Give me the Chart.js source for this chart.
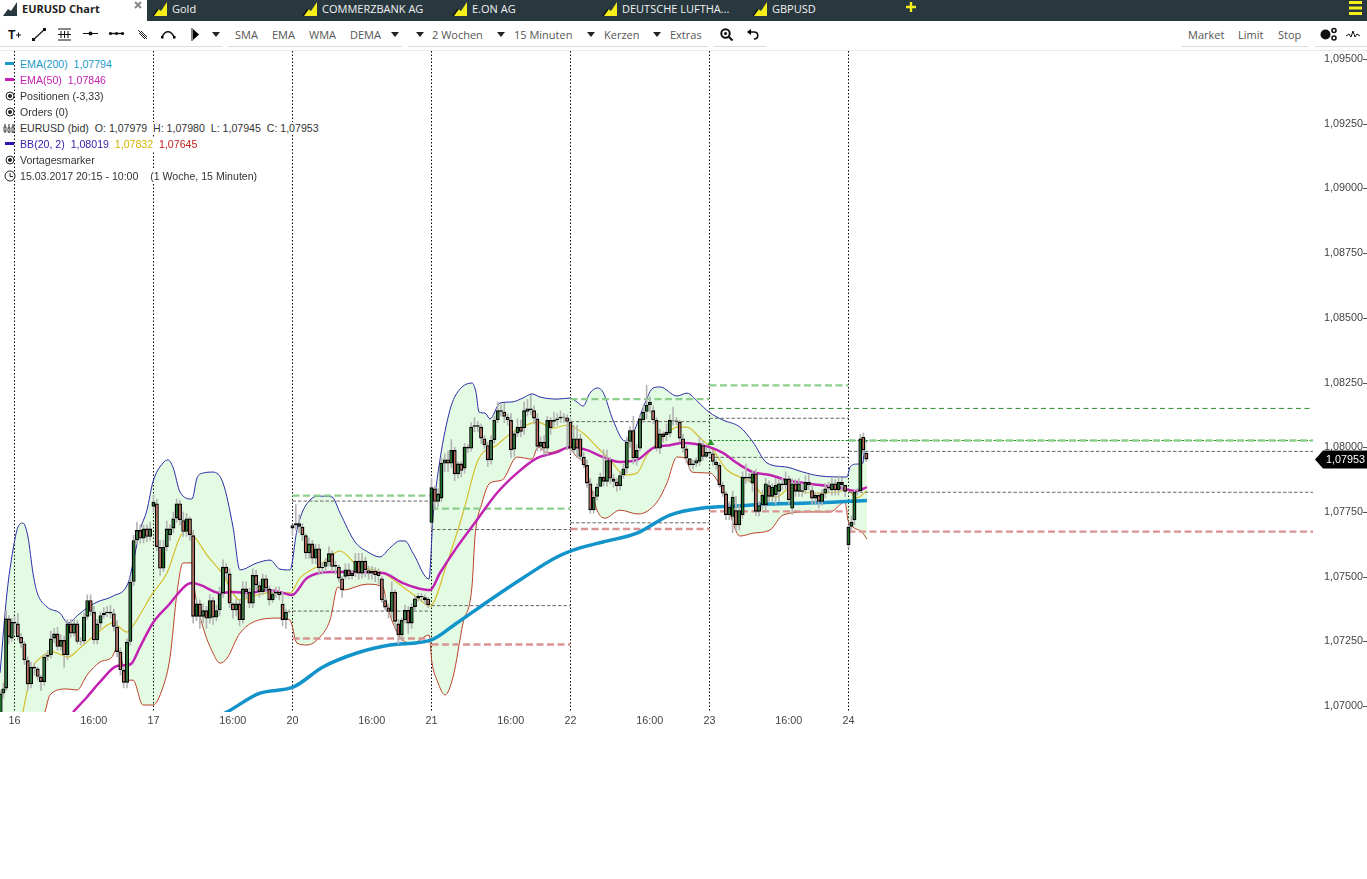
<!DOCTYPE html>
<html>
<head>
<meta charset="utf-8">
<title>EURUSD Chart</title>
<script src="https://cdn.jsdelivr.net/npm/chart.js@4"></script>
<style>
html, body { margin: 0; padding: 0; background: #fff; overflow: hidden; }
#page { position: relative; width: 1367px; height: 879px; overflow: hidden; }
#tabbar { position: absolute; left: 0; top: 0; width: 1367px; height: 21px; background: #29383f; }
#activetab { position: absolute; left: 0; top: 0; width: 147px; height: 21px; background: #fff; }
.tab, .tool, .lg { position: absolute; white-space: nowrap; }
.tab { top: 1px; font: 11px/15px "Open Sans"; color: #f2f2f2; }
.tool { top: 27px; font: 11px/15px "Open Sans"; color: #555; }
.lg { left: 20px; font: 10.6px/13px "Liberation Sans"; color: #333; background: #fff; padding-right: 1px; }
.rule { position: absolute; height: 1px; background: #ddd; top: 46px; }
svg { position: absolute; overflow: visible; }
#chartBox { position: absolute; left: 0; top: 51px; width: 1367px; height: 680px; }
</style>
</head>
<body>
<div id="page">
  <div id="chartBox"><canvas id="eurusdChart"></canvas></div>

  <div id="tabbar"></div>
  <div id="activetab"></div>
  <svg style="left:3px;top:2px" width="15" height="15"><polygon points="0,14 5,7 8,9 14,0 14,14" fill="#29383f"/></svg>
  <div class="tab" style="left:22px;color:#222;font-weight:700">EURUSD Chart</div>
  <svg style="left:134px;top:1px" width="9" height="9"><path d="M1 1L7 7M7 1L1 7" stroke="#888" stroke-width="2"/></svg>
  <svg style="left:153px;top:2px" width="15" height="15"><use href="#tabIcon"/></svg>
  <div class="tab" style="left:172px">Gold</div>
  <svg style="left:303px;top:2px" width="15" height="15"><use href="#tabIcon"/></svg>
  <div class="tab" style="left:322px">COMMERZBANK AG</div>
  <svg style="left:453px;top:2px" width="15" height="15"><use href="#tabIcon"/></svg>
  <div class="tab" style="left:472px">E.ON AG</div>
  <svg style="left:603px;top:2px" width="15" height="15"><use href="#tabIcon"/></svg>
  <div class="tab" style="left:622px">DEUTSCHE LUFTHA...</div>
  <svg style="left:753px;top:2px" width="15" height="15"><use href="#tabIcon"/></svg>
  <div class="tab" style="left:772px">GBPUSD</div>
  <svg style="left:906px;top:2px" width="11" height="11"><path d="M5 0V10M0 5H10" stroke="#f5ee1a" stroke-width="2.4"/></svg>
  <svg style="left:1349px;top:1px" width="13" height="14"><path d="M0 1.5H13M0 7H13M0 12.5H13" stroke="#f5ee1a" stroke-width="3"/></svg>
  <svg width="0" height="0"><defs><g id="tabIcon"><polygon points="0,14 5,7 8,9 14,0 14,14" fill="#f5ee1a"/><path d="M0 14L5 7" stroke="#111" stroke-width="1.5"/></g></defs></svg>

  <!-- toolbar -->
  <svg style="left:8px;top:29px" width="13" height="12"><text x="0" y="10" font-family="Liberation Sans" font-weight="700" font-size="12" fill="#111">T</text><path d="M8 6H13M10.5 3.5V8.5" stroke="#111"/></svg>
  <svg style="left:32px;top:28px" width="14" height="13"><path d="M1 12L13 1" stroke="#111" stroke-width="1.2"/><rect x="0" y="10" width="3" height="3" fill="#111"/><rect x="11" y="0" width="3" height="3" fill="#111"/></svg>
  <svg style="left:58px;top:28px" width="14" height="14"><path d="M0 1H13M0 12H13M0 6.5H13M3 3V10M6.5 3V10M10 3V10" stroke="#111"/></svg>
  <svg style="left:83px;top:30px" width="16" height="8"><path d="M0 3.5H15" stroke="#111"/><circle cx="7.5" cy="3.5" r="2" fill="#111"/></svg>
  <svg style="left:109px;top:30px" width="16" height="8"><path d="M0 3.5H15" stroke="#111" stroke-width="1.4"/><circle cx="1.5" cy="3.5" r="1.6" fill="#111"/><circle cx="7.5" cy="3.5" r="1.6" fill="#111"/><circle cx="13.5" cy="3.5" r="1.6" fill="#111"/></svg>
  <svg style="left:137px;top:29px" width="12" height="12"><path d="M1 1L10 10M2 4L8 10M4 2L10 8" stroke="#222"/></svg>
  <svg style="left:161px;top:30px" width="15" height="9"><path d="M1 7C4 0 10 0 13 7" fill="none" stroke="#111" stroke-width="1.5"/><rect x="0" y="6" width="2.5" height="2.5"/><rect x="12" y="6" width="2.5" height="2.5"/></svg>
  <svg style="left:191px;top:28px" width="10" height="13"><path d="M1 0V13" stroke="#111"/><polygon points="2,1 8,6.5 2,12"/></svg>
  <svg style="left:212px;top:32px" width="8" height="5"><polygon points="0,0 8,0 4,5" fill="#222"/></svg>
  <div class="tool" style="left:235px">SMA</div>
  <div class="tool" style="left:272px">EMA</div>
  <div class="tool" style="left:309px">WMA</div>
  <div class="tool" style="left:350px">DEMA</div>
  <svg style="left:391px;top:32px" width="8" height="5"><polygon points="0,0 8,0 4,5" fill="#222"/></svg>
  <svg style="left:416px;top:32px" width="8" height="5"><polygon points="0,0 8,0 4,5" fill="#222"/></svg>
  <div class="tool" style="left:432px">2 Wochen</div>
  <svg style="left:497px;top:32px" width="8" height="5"><polygon points="0,0 8,0 4,5" fill="#222"/></svg>
  <div class="tool" style="left:514px">15 Minuten</div>
  <svg style="left:587px;top:32px" width="8" height="5"><polygon points="0,0 8,0 4,5" fill="#222"/></svg>
  <div class="tool" style="left:604px">Kerzen</div>
  <svg style="left:653px;top:32px" width="8" height="5"><polygon points="0,0 8,0 4,5" fill="#222"/></svg>
  <div class="tool" style="left:670px">Extras</div>
  <svg style="left:720px;top:28px" width="13" height="13"><circle cx="5.5" cy="5.5" r="4.2" fill="none" stroke="#111" stroke-width="2"/><path d="M8.5 8.5L12.5 12.5" stroke="#111" stroke-width="2.2"/><circle cx="5.5" cy="5.5" r="1.5"/></svg>
  <svg style="left:747px;top:29px" width="12" height="11"><path d="M3 3H7C12 3 12 10 7 10" fill="none" stroke="#111" stroke-width="1.6"/><polygon points="4,0 4,6 0,3"/></svg>
  <div class="tool" style="left:1188px">Market</div>
  <div class="tool" style="left:1238px">Limit</div>
  <div class="tool" style="left:1278px">Stop</div>
  <svg style="left:1320px;top:28px" width="17" height="13"><circle cx="5.5" cy="6.5" r="5" fill="#111"/><circle cx="14" cy="2.5" r="2" fill="none" stroke="#111" stroke-width="1.6"/><circle cx="14" cy="10" r="2" fill="none" stroke="#111" stroke-width="1.6"/></svg>
  <svg style="left:1346px;top:30px" width="14" height="9"><path d="M0 6L3 4L5 7L7 1L9 7L11 4L14 6" fill="none" stroke="#111"/></svg>
  <div class="rule" style="left:0;width:222px"></div>
  <div class="rule" style="left:228px;width:174px"></div>
  <div class="rule" style="left:408px;width:300px"></div>
  <div class="rule" style="left:714px;width:52px"></div>
  <div class="rule" style="left:1181px;width:127px"></div>
  <div class="rule" style="left:1315px;width:52px"></div>
  <div class="rule" style="left:0;width:1367px;top:50px;background:#eaeaea"></div>

  <!-- legend -->
  <svg style="left:5px;top:62px" width="9" height="3"><rect width="9" height="3" fill="#1b9ac9"/></svg>
  <svg style="left:5px;top:78px" width="9" height="3"><rect width="9" height="3" fill="#c41fb4"/></svg>
  <svg style="left:5px;top:91px" width="10" height="10"><circle cx="5" cy="5" r="4" fill="none" stroke="#222"/><circle cx="5" cy="5" r="2" fill="#222"/></svg>
  <svg style="left:5px;top:107px" width="10" height="10"><circle cx="5" cy="5" r="4" fill="none" stroke="#222"/><circle cx="5" cy="5" r="2" fill="#222"/></svg>
  <svg style="left:3px;top:124px" width="12" height="9"><path d="M2 0V9M6 0V9M10 0V9" stroke="#222"/><rect x="1" y="3" width="2" height="4" fill="#fff" stroke="#222" stroke-width=".8"/><rect x="5" y="4" width="2" height="4" fill="#fff" stroke="#222" stroke-width=".8"/><rect x="9" y="3" width="2" height="5" fill="#fff" stroke="#222" stroke-width=".8"/></svg>
  <svg style="left:5px;top:142px" width="9" height="3"><rect width="9" height="3" fill="#2a18b0"/></svg>
  <svg style="left:5px;top:155px" width="10" height="10"><circle cx="5" cy="5" r="4" fill="none" stroke="#222"/><circle cx="5" cy="5" r="2" fill="#222"/></svg>
  <svg style="left:4px;top:170px" width="12" height="12"><circle cx="6" cy="6" r="5" fill="#fff" stroke="#222"/><path d="M6 3V6.5H9" fill="none" stroke="#222"/></svg>
  <div class="lg" style="top:58px;color:#1b9ac9">EMA(200)&nbsp; 1,07794</div>
  <div class="lg" style="top:74px;color:#c41fb4">EMA(50)&nbsp; 1,07846</div>
  <div class="lg" style="top:90px">Positionen (-3,33)</div>
  <div class="lg" style="top:106px">Orders (0)</div>
  <div class="lg" style="top:122px">EURUSD (bid)&nbsp; O: 1,07979&nbsp; H: 1,07980&nbsp; L: 1,07945&nbsp; C: 1,07953</div>
  <div class="lg" style="top:138px;color:#3a22b0">BB(20, 2)&nbsp; 1,08019&nbsp; <span style="color:#d6b400">1,07832</span>&nbsp; <span style="color:#c02020">1,07645</span></div>
  <div class="lg" style="top:154px">Vortagesmarker</div>
  <div class="lg" style="top:170px">15.03.2017 20:15 - 10:00&nbsp;&nbsp;&nbsp; (1 Woche, 15 Minuten)</div>
</div>

<script>
// All prices in 0.00001 (107953 = 1,07953). X is trading days since the 16th, weekend removed.
const dayLabels = ['16', '17', '20', '21', '22', '23', '24'];
const xTickValues = [0, 0.57, 1, 1.57, 2, 2.57, 3, 3.57, 4, 4.57, 5, 5.57, 6];
const xTickLabels = ['16', '16:00', '17', '16:00', '20', '16:00', '21', '16:00', '22', '16:00', '23', '16:00', '24'];
const yTickValues = [107000, 107250, 107500, 107750, 108000, 108250, 108500, 108750, 109000, 109250, 109500];
const yTickLabels = ['1,07000', '1,07250', '1,07500', '1,07750', '1,08000', '1,08250', '1,08500', '1,08750', '1,09000', '1,09250', '1,09500'];
const lastPrice = 107953;
const lastPriceLabel = '1,07953';

// candles per session: start of session on the x axis, and OHLC per bar
const sessionStart = [-0.1, 0, 1, 2, 3, 4, 5, 6];
const sessionEnd = [0, 1, 2, 3, 4, 5, 6, 6.15];
const opens = [
  [106971,107048,107068,107338,107261],
  [107325,107319,107267,107242,107177,107084,107151,107145,107113,107093,107190,107197,107261,107280,107229,107255,107197,107319,107280,107319,107248,107250,107345,107409,107364,107254,107319,107351,107360,107364,107358,107306,107209,107139,107090,107248,107480,107641,107680,107647,107686,107654],
  [107770,107783,107615,107531,107615,107660,107686,107725,107783,107718,107673,107725,107660,107345,107396,107345,107370,107338,107409,107342,107370,107435,107538,107512,107396,107370,107396,107332,107454,107441,107396,107506,107467,107441,107493,107454,107409,107435,107441,107395,107332,107364],
  [107686,107699,107706,107693,107660,107590,107628,107570,107609,107532,107538,107557,107590,107538,107538,107493,107500,107528,107502,107515,107561,107512,107561,107525,107512,107523,107518,107493,107409,107381,107364,107442,107319,107274,107332,107371,107319,107383,107416,107425,107420,107415],
  [107708,107841,107789,107802,107937,107953,107937,107989,107896,107937,107918,108002,107995,108079,108085,108079,108034,108008,107950,108028,108105,108143,108137,108118,108105,107991,108053,108079,108073,108137,108150,108143,108111,108002,108021,107995,108105,108098,108105,108111,108118,108115],
  [108098,107989,108034,108034,107963,107931,107860,107757,107809,107847,107886,107867,107950,107879,107867,107850,107892,107918,108021,108066,107957,107995,108105,108137,108163,108143,108105,107995,108053,108047,108053,108105,108103,108098,108034,107995,107957,107931,107937,107944,108008,107963],
  [107982,107976,107944,107931,107854,107821,107738,107731,107757,107699,107738,107886,107879,107860,107899,107751,107776,107776,107853,107809,107815,107828,107860,107854,107879,107763,107860,107828,107828,107834,107866,107834,107802,107815,107789,107821,107841,107834,107860,107834,107866,107854],
  [107622,107693,107718,107828,107830,108040,107979]
];
const closes = [
  [107048,107068,107338,107267,107325],
  [107319,107267,107242,107177,107084,107151,107145,107113,107093,107190,107197,107261,107280,107229,107255,107197,107319,107280,107319,107248,107250,107345,107409,107364,107254,107319,107351,107360,107364,107358,107306,107209,107139,107090,107248,107480,107641,107680,107647,107686,107654,107686],
  [107789,107615,107531,107615,107686,107686,107725,107783,107718,107673,107725,107660,107345,107396,107345,107370,107338,107409,107342,107370,107435,107538,107512,107396,107370,107396,107332,107454,107441,107396,107506,107467,107441,107493,107454,107409,107435,107441,107428,107332,107364,107366],
  [107699,107706,107693,107660,107590,107628,107570,107609,107532,107538,107557,107590,107538,107545,107493,107448,107528,107502,107515,107561,107512,107561,107525,107512,107523,107506,107502,107409,107381,107364,107442,107326,107274,107332,107371,107319,107383,107416,107425,107420,107409,107390],
  [107845,107789,107821,107940,107953,107937,107989,107896,107937,107909,108002,107995,108079,108085,108079,108034,108008,107950,108028,108105,108143,108137,108118,108105,107989,108053,108079,108060,108143,108150,108143,108111,108002,108021,107995,108105,108073,108105,108111,108118,108115,108098],
  [107995,108034,107995,107963,107931,107860,107757,107809,107847,107886,107867,107950,107879,107867,107850,107892,107918,108021,108066,107957,107989,108111,108137,108163,108176,108105,107995,108053,108040,108060,108105,108103,108098,108034,107995,107957,107931,107937,107950,108015,107963,107982],
  [107976,107944,107931,107854,107821,107738,107770,107809,107699,107757,107886,107879,107886,107899,107751,107776,107815,107860,107809,107847,107854,107860,107854,107879,107796,107860,107828,107860,107834,107866,107854,107802,107815,107789,107821,107841,107847,107860,107834,107866,107854,107828],
  [107693,107712,107828,107830,108034,107989,107953]
];
const highs = [
  [107060,107090,107370,107350,107340],
  [107345,107358,107280,107250,107190,107170,107165,107150,107120,107200,107215,107290,107300,107305,107275,107270,107335,107335,107335,107330,107265,107360,107430,107430,107385,107335,107365,107380,107385,107390,107375,107330,107225,107150,107260,107495,107660,107710,107700,107700,107700,107710],
  [107815,107800,107640,107640,107715,107700,107750,107800,107795,107750,107745,107730,107680,107415,107410,107395,107385,107430,107420,107390,107460,107565,107550,107530,107400,107415,107410,107480,107480,107455,107530,107525,107480,107510,107505,107465,107450,107460,107460,107440,107375,107372],
  [107700,107780,107740,107705,107665,107650,107640,107625,107625,107555,107570,107615,107600,107560,107545,107500,107550,107550,107525,107590,107590,107590,107575,107540,107540,107535,107530,107500,107420,107395,107480,107450,107335,107340,107390,107385,107395,107425,107435,107435,107430,107420],
  [107880,107850,107840,107960,107975,107985,108030,108000,107945,107945,108015,108010,108095,108115,108100,108090,108045,108020,108045,108120,108175,108165,108170,108130,108130,108060,108110,108105,108175,108185,108200,108160,108130,108040,108045,108120,108115,108135,108130,108140,108130,108125],
  [108110,108085,108085,108050,107980,107950,107880,107830,107860,107900,107990,107990,107960,107895,107880,107905,107935,108040,108080,108120,108010,108125,108160,108240,108195,108160,108115,108070,108060,108090,108125,108155,108115,108105,108050,108005,107945,107950,107960,108040,108025,108000],
  [107995,107985,107950,107940,107865,107830,107790,107830,107810,107775,107905,107935,107900,107910,107915,107790,107835,107880,107870,107860,107880,107875,107880,107905,107890,107880,107875,107880,107860,107890,107895,107855,107825,107825,107835,107860,107865,107880,107875,107890,107880,107850],
  [107700,107735,107835,107840,108050,108055,107980]
];
const lows = [
  [106950,107030,107060,107240,107250],
  [107280,107255,107225,107160,107060,107070,107120,107100,107060,107080,107175,107185,107245,107215,107215,107150,107180,107265,107270,107240,107235,107240,107335,107350,107240,107240,107300,107340,107345,107340,107290,107190,107120,107070,107070,107235,107465,107625,107630,107630,107635,107640],
  [107750,107600,107505,107520,107600,107640,107670,107710,107700,107655,107655,107640,107320,107330,107300,107320,107300,107320,107315,107330,107350,107420,107490,107380,107340,107350,107310,107320,107420,107380,107380,107450,107420,107430,107440,107390,107400,107420,107410,107310,107300,107360],
  [107660,107680,107670,107640,107570,107570,107550,107550,107510,107510,107520,107540,107520,107510,107480,107420,107490,107490,107490,107500,107490,107495,107500,107490,107490,107480,107470,107400,107370,107340,107340,107300,107240,107250,107320,107280,107300,107370,107405,107405,107395,107380],
  [107690,107760,107770,107790,107905,107905,107920,107870,107880,107885,107900,107980,107985,108060,108060,108015,107995,107925,107935,108015,108095,108120,108095,108085,107960,107965,108040,108040,108050,108120,108125,108090,107985,107985,107970,107970,108050,108080,108085,108095,108095,107990],
  [107980,107975,107960,107950,107920,107845,107745,107745,107795,107850,107850,107850,107860,107845,107830,107835,107880,107900,108000,107935,107930,107985,108095,108110,108135,108090,107985,107975,108020,108025,108040,108085,108085,108020,107980,107940,107915,107915,107925,107930,107950,107960],
  [107965,107930,107915,107845,107810,107720,107720,107670,107680,107680,107725,107860,107865,107830,107735,107735,107760,107755,107790,107790,107780,107790,107835,107840,107780,107740,107810,107810,107810,107820,107835,107780,107780,107765,107775,107805,107825,107815,107815,107815,107830,107810],
  [107610,107680,107700,107815,107825,107975,107945]
];

// Bollinger bands and EMAs, sampled along the curve
const bbUpperX = [-0.104,-0.054,-0.011,0.025,0.061,0.097,0.133,0.162,0.234,0.327,0.385,0.457,0.522,0.594,0.709,0.817,0.853,0.903,0.953,0.996,1.068,1.104,1.14,1.191,1.277,1.313,1.356,1.428,1.5,1.572,1.622,1.745,1.838,1.91,1.982,2.032,2.068,2.126,2.183,2.284,2.342,2.45,2.543,2.629,2.701,2.773,2.809,2.867,2.982,3.011,3.061,3.133,3.183,3.291,3.32,3.342,3.385,3.421,3.493,3.579,3.658,3.723,3.781,3.903,3.996,4.047,4.09,4.14,4.191,4.234,4.306,4.392,4.45,4.536,4.594,4.644,4.766,4.838,4.917,4.996,5.097,5.219,5.313,5.414,5.558,5.673,5.795,5.989,6.011,6.061,6.104,6.119,6.133];
const bbUpper = [107128,107437,107603,107692,107707,107653,107514,107440,107383,107359,107321,107352,107379,107402,107425,107475,107553,107680,107757,107866,107939,107951,107923,107827,107800,107881,107900,107904,107862,107692,107526,107553,107564,107529,107526,107680,107746,107796,107811,107808,107746,107634,107595,107576,107611,107638,107638,107591,107491,107730,107951,108144,108209,108248,108213,108136,108132,108109,108171,108175,108190,108206,108194,108186,108190,108175,108159,108209,108229,108213,108105,108024,108055,108171,108229,108233,108198,108209,108175,108136,108105,108078,108020,107939,107923,107904,107889,107885,107923,107935,107939,108028,108019];
const bbLowerX = [-0.104,0.112,0.219,0.255,0.378,0.45,0.522,0.615,0.701,0.737,0.817,0.853,0.924,0.996,1.068,1.119,1.169,1.212,1.277,1.299,1.356,1.428,1.478,1.529,1.622,1.788,1.91,1.982,2.032,2.104,2.198,2.27,2.327,2.363,2.536,2.651,2.68,2.773,2.867,2.982,3.004,3.04,3.097,3.155,3.227,3.291,3.313,3.363,3.421,3.507,3.615,3.723,3.766,3.838,3.982,4.047,4.09,4.14,4.191,4.248,4.356,4.486,4.622,4.694,4.766,4.824,4.874,5.004,5.076,5.126,5.169,5.219,5.313,5.435,5.529,5.723,5.867,5.975,5.996,6.032,6.097,6.133];
const bbLower = [106714,106849,106977,107043,107066,107062,107120,107170,107189,107224,107100,107100,107004,107004,107073,107189,107437,107553,107553,107437,107305,107205,107166,107185,107282,107336,107340,107332,107243,107236,107267,107332,107460,107448,107471,107460,107390,107267,107243,107274,107166,107100,107043,107112,107321,107460,107653,107784,107862,107873,107962,107954,108001,107978,107997,107962,107943,107862,107757,107726,107757,107742,107788,107862,107962,107958,107904,107900,107854,107796,107707,107657,107668,107680,107738,107750,107750,107788,107719,107692,107672,107645];
const bbMidX = [0.04,0.061,0.097,0.133,0.183,0.277,0.385,0.471,0.594,0.709,0.809,0.845,0.996,1.097,1.191,1.248,1.313,1.385,1.493,1.622,1.745,1.888,1.982,2.054,2.198,2.342,2.464,2.651,2.795,2.896,2.989,3.112,3.227,3.335,3.471,3.586,3.766,3.874,3.975,4.09,4.191,4.284,4.392,4.478,4.55,4.665,4.766,4.838,4.932,5.025,5.126,5.219,5.313,5.385,5.486,5.579,5.673,5.795,5.917,5.989,6.061,6.133];
const bbMid = [106907,106977,107073,107151,107185,107209,107189,107224,107282,107321,107286,107305,107437,107514,107653,107680,107641,107583,107514,107410,107429,107440,107437,107495,107545,107599,107545,107514,107460,107421,107386,107553,107746,107951,108009,108059,108097,108074,108086,108055,108001,107951,107893,107900,107970,108036,108078,108078,108036,107989,107912,107885,107862,107815,107808,107842,107827,107823,107827,107835,107804,107832];
const ema50X = [0.421,0.522,0.615,0.737,0.809,0.845,0.903,0.996,1.097,1.277,1.335,1.478,1.572,1.694,1.817,1.932,1.996,2.104,2.27,2.464,2.651,2.795,2.896,2.989,3.061,3.183,3.327,3.471,3.615,3.759,3.903,3.996,4.119,4.234,4.356,4.478,4.594,4.716,4.809,4.996,5.097,5.198,5.313,5.435,5.558,5.795,5.917,6.061,6.133];
const ema50 = [106977,107035,107093,107155,107158,107166,107228,107321,107383,107475,107468,107437,107441,107437,107448,107437,107429,107495,107518,107518,107514,107475,107456,107448,107514,107614,107719,107823,107900,107958,107981,108001,107989,107962,107943,107951,107997,108008,108016,108001,107978,107939,107904,107893,107873,107854,107846,107831,107846];
const ema200X = [1.335,1.529,1.766,2.004,2.219,2.464,2.701,2.996,3.183,3.421,3.658,3.903,4.068,4.234,4.478,4.716,4.953,5.198,5.435,5.673,5.917,6.133];
const ema200 = [106927,106977,107050,107073,107151,107205,107236,107255,107321,107410,107495,107576,107611,107634,107668,107738,107765,107773,107781,107784,107788,107794];

// daily marker levels, one entry per session from the 20th on
const levelFrom = [2, 3, 4, 5, 6];
const levelTo = [3, 4, 5, 6, 9.342];
const levelGreen = [107813, 107763, 108186, 108239, 108026];
const levelRed = [107261, 107238, 107684, 107752, 107674];
const levelGreyHigh = [107792, 107682, 108099, 108112, 107984];
const levelGreyLow = [107367, 107388, 107708, 107961, 107826];
// open position lines from the 23rd
const targetFrom = 5;
const targetTo = 9.342;
const targetLevels = [108150, 108026];
const targetDash = [[5, 3.5], [2.5, 1.5]];
const entryX = [5.01];
const entryY = [108016];

const toPoints = (xs, ys) => xs.map((x, i) => ({ x: x, y: ys[i] }));

const bodyBars = [], wickBars = [], bodyColors = [];
opens.forEach((session, s) => {
    const step = (sessionEnd[s] - sessionStart[s]) / session.length;
    session.forEach((open, i) => {
        const x = sessionStart[s] + i * step;
        bodyBars.push({ x: x, y: [open, closes[s][i]] });
        wickBars.push({ x: x, y: [lows[s][i], highs[s][i]] });
        bodyColors.push(closes[s][i] >= open ? '#14751f' : '#c4634e');
    });
});

function levelLine(from, to, value, color, width, dash, order) {
    return {
        type: 'line',
        data: [{ x: from, y: value }, { x: to, y: value }],
        borderColor: color,
        borderWidth: width,
        borderDash: dash,
        pointRadius: 0,
        order: order
    };
}

function curve(xs, ys, color, width, order) {
    return {
        type: 'line',
        data: toPoints(xs, ys),
        borderColor: color,
        borderWidth: width,
        pointRadius: 0,
        cubicInterpolationMode: 'monotone',
        order: order
    };
}

const upperLine = curve(bbUpperX, bbUpper, '#2b2ba6', 1, 9);
upperLine.fill = { target: 1, above: 'rgba(0,215,0,0.11)', below: 'rgba(0,215,0,0.11)' };

const datasets = [
    upperLine,
    curve(bbLowerX, bbLower, '#c4382a', 1, 9),
    curve(bbMidX, bbMid, '#d6bf2e', 1.2, 8),
    curve(ema200X, ema200, '#1293c9', 3.5, 6),
    curve(ema50X, ema50, '#c222b2', 2.5, 5)
];

levelFrom.forEach((from, i) => {
    const to = levelTo[i];
    datasets.push(levelLine(from, to, levelGreen[i], '#8ccf8c', 2.4, [7, 3.5], 7));
    datasets.push(levelLine(from, to, levelRed[i], '#d99393', 2.4, [7, 3.5], 7));
    datasets.push(levelLine(from, to, levelGreyHigh[i], '#666666', 1, [3.5, 2], 7));
    datasets.push(levelLine(from, to, levelGreyLow[i], '#666666', 1, [3.5, 2], 7));
});
targetLevels.forEach((level, i) => {
    datasets.push(levelLine(targetFrom, targetTo, level, '#2b8f2b', 1, targetDash[i], 7));
});

datasets.push({
    type: 'line',
    data: toPoints(entryX, entryY),
    showLine: false,
    pointStyle: 'triangle',
    pointRadius: 4,
    pointBackgroundColor: '#2b8f2b',
    pointBorderWidth: 0,
    order: 4
});
datasets.push({
    type: 'bar',
    data: wickBars,
    backgroundColor: '#b4b4b4',
    barThickness: 1,
    grouped: false,
    borderWidth: 0,
    order: 3
});
datasets.push({
    type: 'bar',
    data: bodyBars,
    backgroundColor: bodyColors,
    borderColor: '#000',
    borderWidth: 1.4,
    borderSkipped: false,
    inflateAmount: 0,
    barThickness: 4,
    grouped: false,
    order: 2
});

// short tick marks at the far right edge and the black last price tag
const priceAxisExtras = {
    id: 'priceAxisExtras',
    afterDraw(chart) {
        const ctx = chart.ctx, yScale = chart.scales.y;
        ctx.save();
        ctx.strokeStyle = '#555';
        yTickValues.forEach(v => {
            const y = Math.round(yScale.getPixelForValue(v)) + 0.5;
            ctx.beginPath();
            ctx.moveTo(1363, y);
            ctx.lineTo(1367, y);
            ctx.stroke();
        });
        const y = yScale.getPixelForValue(lastPrice);
        ctx.fillStyle = '#000';
        ctx.beginPath();
        ctx.moveTo(1315, y);
        ctx.lineTo(1323, y - 9);
        ctx.lineTo(1367, y - 9);
        ctx.lineTo(1367, y + 9);
        ctx.lineTo(1323, y + 9);
        ctx.closePath();
        ctx.fill();
        ctx.fillStyle = '#fff';
        ctx.font = '10.8px "Liberation Sans"';
        ctx.textAlign = 'left';
        ctx.textBaseline = 'middle';
        ctx.fillText(lastPriceLabel, 1326, y + 0.5);
        ctx.restore();
    }
};

// the layout would otherwise inset the area for the outer tick labels
const noAxisPadding = scale => {
    scale.paddingLeft = 0;
    scale.paddingRight = 0;
    scale.paddingTop = 0;
    scale.paddingBottom = 0;
};

new Chart(document.getElementById('eurusdChart').getContext('2d'), {
    type: 'bar',
    data: { datasets: datasets },
    plugins: [priceAxisExtras],
    options: {
        responsive: true,
        maintainAspectRatio: false,
        animation: false,
        events: [],
        layout: { padding: 0, autoPadding: false },
        plugins: { legend: { display: false }, tooltip: { enabled: false } },
        scales: {
            x: {
                type: 'linear',
                offset: false,
                min: -0.1043,
                max: 9.342,
                afterBuildTicks: scale => { scale.ticks = xTickValues.map(v => ({ value: v })); },
                afterFit: scale => { scale.height = 19; noAxisPadding(scale); },
                ticks: {
                    autoSkip: false,
                    maxRotation: 0,
                    padding: 3,
                    color: '#444',
                    font: { family: 'Liberation Sans', size: 10.8 },
                    callback: value => xTickLabels[xTickValues.indexOf(value)]
                },
                grid: {
                    offset: false,
                    drawTicks: false,
                    tickLength: 0,
                    color: ctx => dayLabels.includes(xTickLabels[ctx.index]) ? '#000' : 'rgba(0,0,0,0)'
                },
                border: { display: false, dash: [1.5, 2] }
            },
            y: {
                type: 'linear',
                position: 'right',
                min: 106977,
                max: 109531,
                afterBuildTicks: scale => { scale.ticks = yTickValues.map(v => ({ value: v })); },
                afterFit: scale => { scale.width = 54; noAxisPadding(scale); },
                ticks: {
                    autoSkip: false,
                    padding: 11,
                    color: '#444',
                    font: { family: 'Liberation Sans', size: 10.8 },
                    callback: value => yTickLabels[yTickValues.indexOf(value)]
                },
                grid: { display: false, drawTicks: false, tickLength: 0 },
                border: { display: false }
            }
        }
    }
});
</script>
</body>
</html>
